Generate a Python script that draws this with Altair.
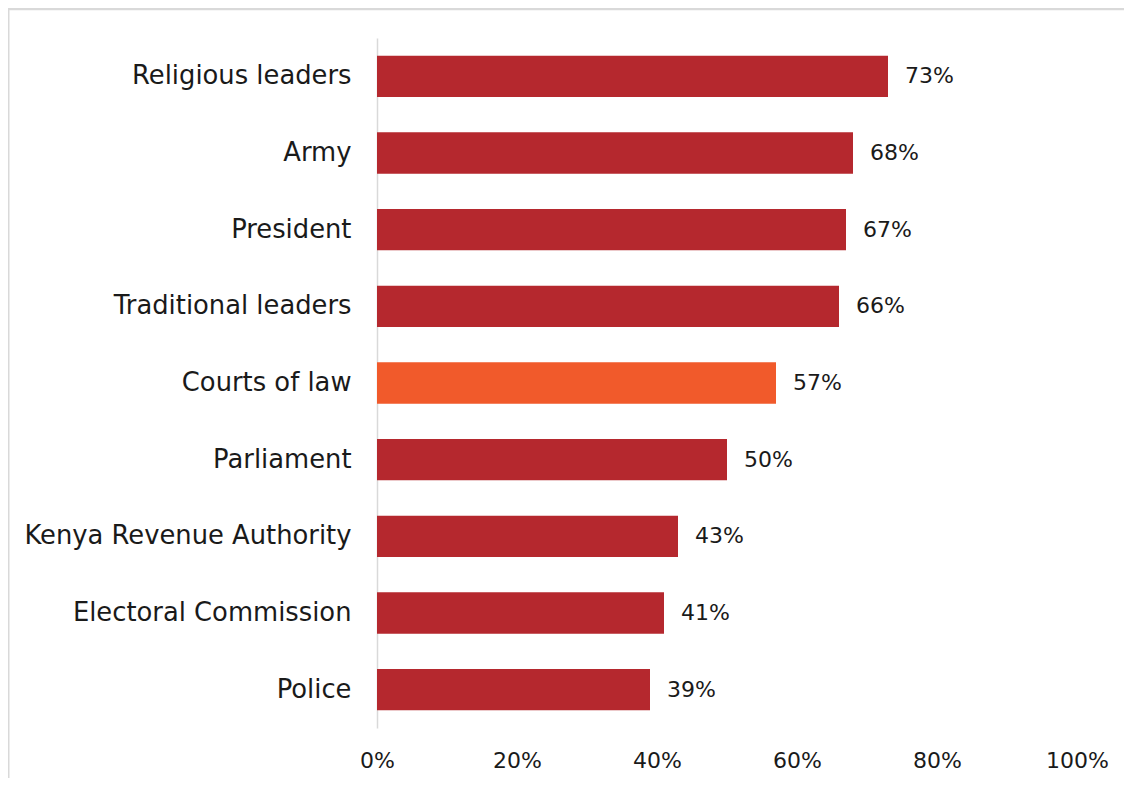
import altair as alt
import pandas as pd

categories = ["Religious leaders", "Army", "President", "Traditional leaders",
              "Courts of law", "Parliament", "Kenya Revenue Authority",
              "Electoral Commission", "Police"]
values = [0.73, 0.68, 0.67, 0.66, 0.57, 0.50, 0.43, 0.41, 0.39]
highlight = [False, False, False, False, True, False, False, False, False]
x_ticks = [0, 0.2, 0.4, 0.6, 0.8, 1.0]

df = pd.DataFrame({"cat": categories, "val": values, "hl": highlight})
df["label"] = [f"{round(v*100)}%" for v in values]

FONT = "DejaVu Sans"
TXT = "#1a1a1a"

y_enc = alt.Y("cat:N", sort=categories, title=None,
              scale=alt.Scale(paddingInner=0.46, paddingOuter=0.23),
              axis=alt.Axis(labelFont=FONT, labelFontSize=25.8, labelColor=TXT,
                            labelPadding=26, ticks=False, domainColor="#d9d9d9",
                            domainWidth=1.5, labelLimit=400))
x_enc = alt.X("val:Q", title=None,
              scale=alt.Scale(domain=[0, 1], nice=False),
              axis=alt.Axis(values=x_ticks, format=".0%", labelFont=FONT,
                            labelFontSize=22, labelColor=TXT, labelPadding=22,
                            labelFlush=False,
                            ticks=False, domain=False, grid=False))

base = alt.Chart(df)
bars = base.mark_bar().encode(
    x=x_enc, y=y_enc,
    color=alt.Color("hl:N", scale=alt.Scale(domain=[False, True],
                                            range=["#B5282E", "#F15A2B"]),
                    legend=None),
)
labels = base.mark_text(align="left", baseline="middle", dx=17, font=FONT,
                        fontSize=22, color=TXT).encode(
    x="val:Q", y=alt.Y("cat:N", sort=categories), text="label:N")

frame_df = pd.DataFrame({"k": [0]})
top_border = alt.Chart(frame_df).mark_rule(color="#d9d9d9", strokeWidth=2.5).encode(
    x=alt.value(-369), x2=alt.value(760), y=alt.value(-29))
left_border = alt.Chart(frame_df).mark_rule(color="#d9d9d9", strokeWidth=2).encode(
    x=alt.value(-368.5), y=alt.value(-29), y2=alt.value(760))

chart = alt.layer(bars, labels, top_border, left_border).properties(
    width=700, height=690,
    autosize=alt.AutoSizeParams(type="none"),
    padding={"left": 369, "top": 30, "right": 47, "bottom": 50},
).configure(background="white", view=alt.ViewConfig(strokeWidth=0))

chart.save("out.html", embed_options={"renderer": "svg", "actions": False})
